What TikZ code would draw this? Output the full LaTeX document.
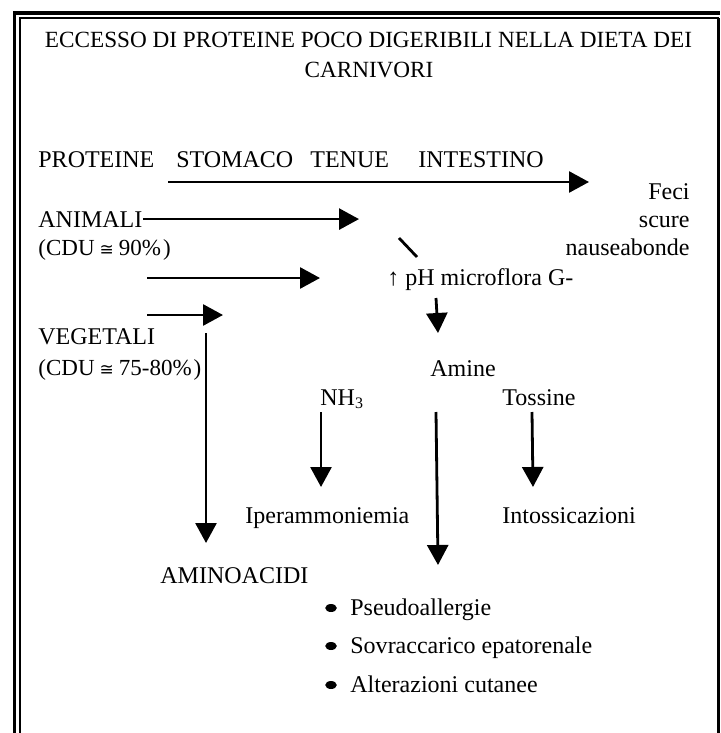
\documentclass[tikz,border=0pt]{standalone}
\usepackage{fontspec}
\setmainfont{Liberation Serif}
\newfontfamily\symfam{DejaVu Sans}
\usetikzlibrary{arrows.meta,shapes.geometric}

\newcommand{\cdueq}{{\symfam\fontsize{8.5}{10}\selectfont ≅}}

\tikzset{
    lbl/.style={inner sep=0pt, anchor=base west},
    rlbl/.style={inner sep=0pt, anchor=base east},
    clbl/.style={inner sep=0pt, anchor=base, font=\fontsize{11.6}{14}\selectfont},
    cdu/.style={lbl, font=\fontsize{11.5}{14}\selectfont},
    arr/.style={-{Triangle[length=10pt,width=10.5pt]}, line width=1.4pt},
    dot/.style={ellipse, fill, inner sep=0pt, minimum width=5.8pt, minimum height=4pt},
}

\begin{document}
\begin{tikzpicture}[x=0.5pt, y=-0.5pt, font=\fontsize{12}{14}\selectfont]
    \useasboundingbox (0,0) rectangle (720,733);
    \draw[line width=1.75pt] (14.5,733) -- (14.5,13) -- (720,13);
    \draw[line width=1pt] (20,733) -- (20,18.5) -- (718.5,18.5);
    \draw[line width=1.5pt] (718.5,18) -- (718.5,733);

    \node (Tit1) at (368.5,48) [clbl] {ECCESSO DI PROTEINE POCO DIGERIBILI NELLA DIETA DEI};
    \node (Tit2) at (369,78) [clbl] {CARNIVORI};

    \node (Prot) at (38,167) [lbl] {PROTEINE};
    \node (Stom) at (176,167) [lbl] {STOMACO};
    \node (Ten) at (310,167) [lbl] {TENUE};
    \node (Int) at (418,167) [lbl] {INTESTINO};

    \node (Feci) at (690,199) [rlbl] {Feci};
    \node (Scu) at (690,227) [rlbl] {scure};
    \node (Nau) at (690,255) [rlbl] {nauseabonde};

    \node (Ani) at (38,227) [lbl] {ANIMALI};
    \node (Cdu1) at (38,255) [cdu] {(CDU\hspace{2.5pt}\cdueq\hspace{2.5pt}90\%\hspace{1pt})};
    \node (Ph) at (387,285) [lbl] {↑ pH microflora G-};
    \node (Veg) at (38,344) [lbl] {VEGETALI};
    \node (Cdu2) at (38,375) [cdu] {(CDU\hspace{2.5pt}\cdueq\hspace{2.5pt}75-80\%\hspace{1pt})};

    \node (Am) at (430,376) [lbl] {Amine};
    \node (Nh) at (320,405) [lbl] {NH\textsubscript{3}};
    \node (Tos) at (502,405) [lbl] {Tossine};
    \node (Ipe) at (245,523) [lbl] {Iperammoniemia};
    \node (Into) at (502,523) [lbl] {Intossicazioni};
    \node (Amino) at (160,583) [lbl] {AMINOACIDI};

    \node (D1) at (331,608) [dot] {};
    \node (D2) at (331,646) [dot] {};
    \node (D3) at (331,685) [dot] {};
    \node (Ps) at (350,615) [lbl] {Pseudoallergie};
    \node (Sov) at (350,653) [lbl] {Sovraccarico epatorenale};
    \node (Alt) at (350,692) [lbl] {Alterazioni cutanee};

    \coordinate (a1) at (168,182);
    \coordinate (a2) at (589,182);
    \coordinate (b2) at (359,220);
    \coordinate (c1) at (147,278);
    \coordinate (c2) at (320,278);
    \coordinate (d1) at (147,315);
    \coordinate (d2) at (223,315);
    \coordinate (g1) at (399,238);
    \coordinate (g2) at (417,257);
    \coordinate (p1) at (436,298);
    \coordinate (p2) at (438,333);
    \coordinate (v1) at (206,333);
    \coordinate (v2) at (206,543);
    \coordinate (n1) at (321,412);
    \coordinate (n2) at (321,487);
    \coordinate (t1) at (532,412);
    \coordinate (t2) at (533,487);
    \coordinate (m1) at (436,412);
    \coordinate (m2) at (438,565);

    \draw[arr] (a1) to (a2);
    \draw[arr] (Ani.east) to (Ani.east -| b2);
    \draw[arr] (c1) to (c2);
    \draw[arr] (d1) to (d2);
    \draw[line width=1.4pt] (g1) to (g2);
    \draw[arr] (p1) to (p2);
    \draw[arr] (v1) to (v2);
    \draw[arr] (n1) to (n2);
    \draw[arr] (t1) to (t2);
    \draw[arr] (m1) to (m2);
\end{tikzpicture}
\end{document}
